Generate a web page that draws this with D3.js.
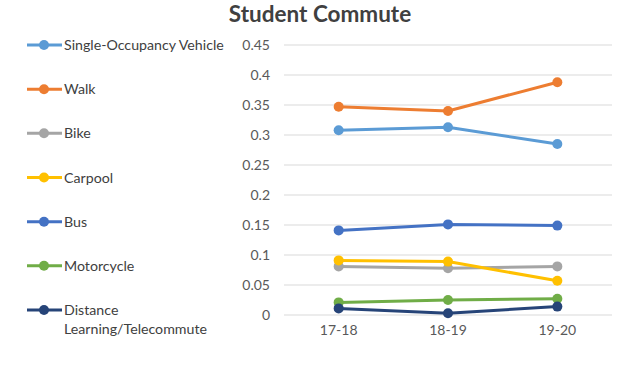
<!DOCTYPE html>
<html><head><meta charset="utf-8">
<script src="https://cdn.jsdelivr.net/npm/d3@7"></script>
<style>body{margin:0;background:#fff;} svg{display:block;font-family:Lato, "Open Sans", sans-serif;}</style>
</head><body><svg id="c" width="640" height="365"></svg>
<script>
const categories = ["17-18", "18-19", "19-20"];
const seriesNames = ["Single-Occupancy Vehicle", "Walk", "Bike", "Carpool", "Bus", "Motorcycle", "Distance Learning/Telecommute"];
const sovValues = [0.308, 0.313, 0.285];
const walkValues = [0.347, 0.340, 0.388];
const bikeValues = [0.081, 0.078, 0.081];
const carpoolValues = [0.091, 0.089, 0.057];
const busValues = [0.141, 0.151, 0.149];
const motorcycleValues = [0.021, 0.025, 0.027];
const distanceValues = [0.011, 0.003, 0.014];
const yTicks = [0, 0.05, 0.1, 0.15, 0.2, 0.25, 0.3, 0.35, 0.4, 0.45];
const colors = ["#5B9BD5", "#ED7D31", "#A5A5A5", "#FFC000", "#4472C4", "#70AD47", "#264478"];

const series = [sovValues, walkValues, bikeValues, carpoolValues, busValues, motorcycleValues, distanceValues]
  .map((v, i) => ({name: seriesNames[i], values: v, color: colors[i]}));

const svg = d3.select("#c");
const x = d3.scaleBand().domain(categories).range([284, 612]);
const y = d3.scaleLinear().domain([0, 0.45]).range([315, 45]);

svg.append("text").attr("x", 320).attr("y", 22).attr("text-anchor", "middle")
  .attr("font-size", 22.5).attr("font-weight", "bold").attr("fill", "#404040").text("Student Commute");

// gridlines
svg.append("g").selectAll("line").data(yTicks).join("line")
  .attr("x1", 284).attr("x2", 612).attr("y1", d => y(d)).attr("y2", d => y(d))
  .attr("stroke", "#d9d9d9").attr("stroke-width", 1);

const yAxis = svg.append("g").attr("transform", "translate(284,0)")
  .call(d3.axisLeft(y).tickValues(yTicks).tickSize(0).tickPadding(14).tickFormat(d => d === 0 ? "0" : String(+d.toFixed(2))));
yAxis.select(".domain").remove();
yAxis.selectAll("text").attr("font-size", 14).attr("fill", "#595959").attr("font-family", "Lato, sans-serif");

const xAxis = svg.append("g").attr("transform", "translate(0,315)")
  .call(d3.axisBottom(x).tickSize(0).tickPadding(10));
xAxis.select(".domain").remove();
xAxis.selectAll("text").attr("font-size", 14).attr("fill", "#595959").attr("font-family", "Lato, sans-serif");

const line = d3.line().x((d, i) => x(categories[i]) + x.bandwidth() / 2).y(d => y(d));
const g = svg.append("g");
series.forEach(s => {
  g.append("path").attr("d", line(s.values)).attr("fill", "none").attr("stroke", s.color)
    .attr("stroke-width", 3).attr("stroke-linejoin", "round");
  g.selectAll(null).data(s.values).join("circle")
    .attr("cx", (d, i) => x(categories[i]) + x.bandwidth() / 2).attr("cy", d => y(d))
    .attr("r", 5).attr("fill", s.color);
});

// legend
const legY = d3.scalePoint().domain(seriesNames).range([45, 310]);
const leg = svg.append("g");
series.forEach(s => {
  const yy = legY(s.name);
  leg.append("line").attr("x1", 27).attr("x2", 62).attr("y1", yy).attr("y2", yy)
    .attr("stroke", s.color).attr("stroke-width", 3);
  leg.append("circle").attr("cx", 44).attr("cy", yy).attr("r", 5).attr("fill", s.color);
  const t = leg.append("text").attr("x", 64).attr("y", yy + 5).attr("font-size", 14.2).attr("fill", "#404040");
  if (s.name.startsWith("Distance")) {
    t.append("tspan").attr("x", 64).text("Distance");
    t.append("tspan").attr("x", 64).attr("dy", 19).text("Learning/Telecommute");
  } else t.text(s.name);
});
</script></body></html>
